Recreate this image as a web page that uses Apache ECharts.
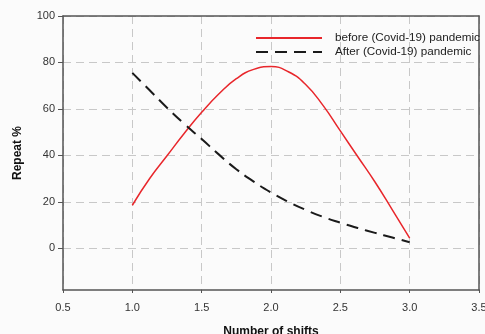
<!DOCTYPE html>
<html>
<head>
    <meta charset="utf-8">
    <title>Repeat % by number of shifts</title>
    <script src="https://cdn.jsdelivr.net/npm/echarts@6/dist/echarts.min.js"></script>
    <style>
        html, body { margin: 0; padding: 0; background: #fbfbfb; }
        #chart { width: 485px; height: 334px; }
    </style>
</head>
<body>
    <div id="chart"></div>
    <script>
        // values
        var shifts = [1.0, 1.125, 1.25, 1.375, 1.5, 1.625, 1.75, 1.875, 2.0,
                      2.125, 2.25, 2.375, 2.5, 2.625, 2.75, 2.875, 3.0];
        var before = [18.5, 30, 39.8, 49.5, 58.5, 66.5, 73, 77, 78.2,
                      76, 70.5, 61.5, 50.5, 39.5, 28.5, 16.5, 4.3];
        var after = [75.5, 68, 60.5, 53.5, 47, 40.3, 34, 28.7, 24,
                     20, 16.5, 13.5, 11, 8.7, 6.6, 4.6, 2.6];
        var yTicks = [0, 20, 40, 60, 80, 100];
        var seriesNames = ['before (Covid-19) pandemic', 'After (Covid-19) pandemic'];

        function pairs(xs, ys) {
            return xs.map(function (x, i) { return [x, ys[i]]; });
        }

        var frameLine = { show: true, onZero: false, lineStyle: { color: '#555', width: 1.5 } };

        var chart = echarts.init(document.getElementById('chart'));
        chart.setOption({
            backgroundColor: '#fbfbfb',
            animation: false,
            textStyle: { fontFamily: 'Liberation Sans, Arial, sans-serif' },
            grid: {
                left: 63, right: 6, top: 16, bottom: 44,
                outerBoundsMode: 'none',
                containLabel: false
            },
            legend: {
                orient: 'vertical',
                left: 250,
                top: 27,
                itemWidth: 66,
                itemHeight: 10,
                itemGap: 2,
                itemStyle: { opacity: 0 },
                textStyle: { fontSize: 11.7, color: '#222', padding: [0, 0, 0, 8] },
                data: seriesNames
            },
            xAxis: [{
                type: 'value',
                min: 0.5,
                max: 3.5,
                interval: 0.5,
                name: 'Number of shifts',
                nameLocation: 'middle',
                nameGap: 36,
                nameTextStyle: { fontSize: 12, fontWeight: 'bold', color: '#111' },
                axisLine: frameLine,
                axisTick: { show: true, length: 3, lineStyle: { color: '#555' } },
                axisLabel: {
                    color: '#333', fontSize: 11, margin: 12,
                    formatter: function (v) { return v.toFixed(1); }
                },
                splitLine: { show: true, lineStyle: { color: '#c8c8c8', type: [8, 5] } }
            }, {
                // top edge of the plot box
                type: 'value',
                position: 'top',
                min: 0.5,
                max: 3.5,
                axisLine: frameLine,
                axisTick: { show: false },
                axisLabel: { show: false },
                splitLine: { show: false }
            }],
            yAxis: [{
                type: 'value',
                min: -18,
                max: 100,
                name: 'Repeat %',
                nameLocation: 'middle',
                nameGap: 39,
                nameTextStyle: { fontSize: 12, fontWeight: 'bold', color: '#111' },
                axisLine: frameLine,
                axisTick: { show: true, length: 5, customValues: yTicks, lineStyle: { color: '#555' } },
                axisLabel: { color: '#333', fontSize: 11, margin: 8, customValues: yTicks },
                splitLine: { show: true, lineStyle: { color: '#c8c8c8', type: [8, 5] } }
            }, {
                // right edge of the plot box
                type: 'value',
                position: 'right',
                min: -18,
                max: 100,
                axisLine: frameLine,
                axisTick: { show: false },
                axisLabel: { show: false },
                splitLine: { show: false }
            }],
            series: [{
                name: seriesNames[0],
                type: 'line',
                smooth: 0.5,
                symbol: 'none',
                lineStyle: { color: '#e8262b', width: 1.5 },
                itemStyle: { color: '#e8262b' },
                data: pairs(shifts, before)
            }, {
                name: seriesNames[1],
                type: 'line',
                smooth: 0.5,
                symbol: 'none',
                lineStyle: { color: '#1a1a1a', width: 2, type: [12, 7] },
                itemStyle: { color: '#1a1a1a' },
                data: pairs(shifts, after)
            }]
        });
    </script>
</body>
</html>
